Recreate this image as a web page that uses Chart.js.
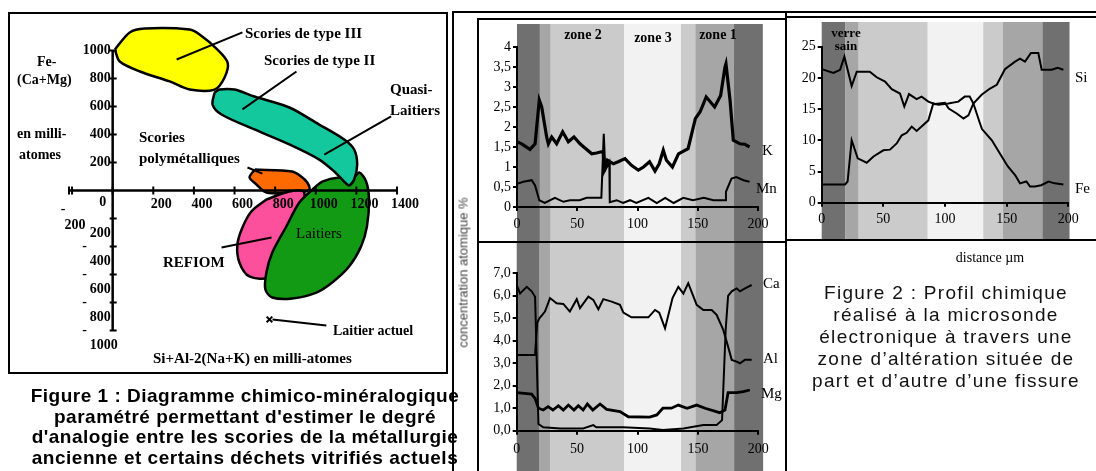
<!DOCTYPE html>
<html>
<head>
<meta charset="utf-8">
<script src="https://cdn.jsdelivr.net/npm/chart.js@4.4.1/dist/chart.umd.min.js"></script>
<style>
  body { margin: 0; background: #fff; }
  #page { position: relative; width: 1096px; height: 471px; overflow: hidden; background: #fff; }
  canvas { position: absolute; }
  .t { position: absolute; white-space: nowrap; line-height: 16px; color: #000; }
  .sb { font: bold 14px "Liberation Serif", serif; }
  .sb15 { font: bold 15px "Liberation Serif", serif; }
  .sr { font: 15px "Liberation Serif", serif; }
  .ln { position: absolute; background: #000; }
  .cap1 { position: absolute; left: 0; width: 490px; top: 386px; text-align: center;
          font: bold 19px "Liberation Sans", Arial, sans-serif; line-height: 20.7px; letter-spacing: 0.5px; }
  .cap2 { position: absolute; left: 790px; width: 312px; top: 282px; text-align: center;
          font: 19px "Liberation Sans", Arial, sans-serif; line-height: 22px; letter-spacing: 1.3px; color: #111; }
</style>
</head>
<body>
<div id="page">
  <!-- figure 1 frame -->
  <div style="position:absolute;left:8px;top:12px;width:440px;height:362px;border:2px solid #000;box-sizing:border-box"></div>
  <canvas id="diag" width="440" height="361" style="left:8px;top:12px"></canvas>

  <!-- figure 2 panels -->
  <canvas id="p1" width="307" height="224" style="left:478px;top:19px"></canvas>
  <canvas id="p4" width="307" height="228" style="left:478px;top:243px"></canvas>
  <canvas id="p3" width="309" height="223" style="left:787px;top:17px"></canvas>

  <!-- figure 2 frame lines -->
  <div class="ln" style="left:452px;top:11px;width:2px;height:460px"></div>
  <div class="ln" style="left:452px;top:11px;width:644px;height:2px"></div>
  <div class="ln" style="left:477px;top:18px;width:2px;height:453px"></div>
  <div class="ln" style="left:477px;top:18px;width:309px;height:2px"></div>
  <div class="ln" style="left:477px;top:241px;width:309px;height:2px"></div>
  <div class="ln" style="left:785px;top:11px;width:2px;height:460px"></div>
  <div class="ln" style="left:785px;top:16px;width:311px;height:2px"></div>
  <div class="ln" style="left:785px;top:239px;width:311px;height:2px"></div>

  <!-- figure 1 labels -->
  <div class="t sb15" style="left:245px;top:25px">Scories de type III</div>
  <div class="t sb15" style="left:264px;top:52px">Scories de type II</div>
  <div class="t sb15" style="left:390px;top:81px">Quasi-</div>
  <div class="t sb15" style="left:390px;top:102px">Laitiers</div>
  <div class="t sb15" style="left:139px;top:129px">Scories</div>
  <div class="t sb15" style="left:139px;top:150px">polymétalliques</div>
  <div class="t sb15" style="left:163px;top:254px">REFIOM</div>
  <div class="t sr" style="left:296px;top:225px;font-size:15px">Laitiers</div>
  <div class="t sb" style="left:333px;top:323px">Laitier actuel</div>
  <div class="t sb" style="left:37px;top:54px">Fe-</div>
  <div class="t sb" style="left:17px;top:72px">(Ca+Mg)</div>
  <div class="t sb" style="left:17px;top:126px">en milli-</div>
  <div class="t sb" style="left:19px;top:147px">atomes</div>
  <div class="t sb15" style="left:153px;top:350px">Si+Al-2(Na+K) en milli-atomes</div>

  <!-- figure 2 labels -->
  <div class="t sb" style="left:553px;top:27px;width:60px;text-align:center">zone 2</div>
  <div class="t sb" style="left:623px;top:30px;width:60px;text-align:center">zone 3</div>
  <div class="t sb" style="left:688px;top:27px;width:60px;text-align:center">zone 1</div>
  <div class="t sr" style="left:762px;top:142px">K</div>
  <div class="t sr" style="left:756px;top:180px">Mn</div>
  <div class="t sb" style="left:826px;top:26px;width:40px;text-align:center;font-size:13px;line-height:13px">verre<br>sain</div>
  <div class="t sr" style="left:1075px;top:69px">Si</div>
  <div class="t sr" style="left:1075px;top:180px">Fe</div>
  <div class="t sr" style="left:763px;top:275px">Ca</div>
  <div class="t sr" style="left:763px;top:350px">Al</div>
  <div class="t sr" style="left:761px;top:385px">Mg</div>
  <div class="t sr" style="left:940px;top:250px;width:100px;text-align:center;font-size:14px">distance µm</div>
  <div class="t" style="left:378px;top:265px;width:170px;text-align:center;font:13px 'Liberation Sans',sans-serif;color:#444;transform:rotate(-90deg)">concentration atomique %</div>

  <div class="cap1">Figure 1 : Diagramme chimico-minéralogique<br>paramétré permettant d'estimer le degré<br>d'analogie entre les scories de la métallurgie<br>ancienne et certains déchets vitrifiés actuels</div>
  <div class="cap2">Figure 2 : Profil chimique<br>réalisé à la microsonde<br>électronique à travers une<br>zone d’altération située de<br>part et d’autre d’une fissure</div>
</div>

<script>
// ---- Figure 1: domains, in milli-atomes [x, y] ----
const yellowBlob = [[11, 1007], [84, 1129], [158, 1157], [379, 1150], [428, 1114], [516, 1007], [566, 914],
  [551, 807], [502, 721], [379, 721], [281, 779], [134, 850], [35, 921]];
const tealBlob = [[502, 700], [492, 614], [536, 543], [698, 436], [870, 329], [1017, 221], [1091, 136],
  [1140, 64], [1164, 36], [1189, 79], [1204, 186], [1189, 293], [1140, 364], [1017, 471], [870, 593],
  [698, 671], [600, 721], [526, 721]];
const orangeBlob = [[700, 150], [884, 136], [928, 100], [958, 57], [968, 7], [919, -14], [757, -14],
  [708, 43], [674, 93]];
const pinkBlob = [[757, -64], [870, -7], [943, -14], [919, -207], [845, -493], [772, -621], [673, -614],
  [624, -514], [614, -386], [639, -264], [683, -150]];
const greenBlob = [[983, 7], [1032, 64], [1115, 93], [1179, 79], [1214, 129], [1248, 64], [1262, -64],
  [1252, -257], [1223, -400], [1164, -543], [1081, -657], [1003, -729], [884, -771], [786, -764],
  [752, -707], [757, -586], [786, -443], [855, -257], [919, -86]];
const leaderTypeIII = [[639, 1129], [315, 936]];
const leaderTypeII = [[905, 850], [639, 579]];
const leaderQuasi = [[1371, 529], [1042, 257]];
const leaderPoly = [[664, 164], [737, 121]];
const leaderRefiom = [[536, -407], [782, -336]];
const leaderActuel = [[787, -921], [1052, -964]];
const laitierActuel = [[772, -921]];
const diagXTicks = [-200, 0, 200, 400, 600, 800, 1000, 1200, 1400];
const diagYTicks = [-1000, -800, -600, -400, -200, 200, 400, 600, 800, 1000];

// ---- Figure 2: profiles [distance µm, concentration %] ----
const seriesK = [[0, 1.63], [3.9, 1.58], [10.8, 1.44], [15, 1.58], [18.5, 2.67], [20.5, 2.5], [24.6, 1.75],
  [26, 1.58], [28.8, 1.75], [32.9, 1.58], [37.9, 1.88], [42.6, 1.63], [47.3, 1.75], [52.3, 1.58],
  [62, 1.33], [66, 1.35], [70, 1.38], [71.5, 1.38], [72.5, 0.95], [75, 1.17], [80, 1.08], [84, 1.13],
  [89.6, 1.21], [95, 1.04], [100.7, 0.92], [105, 1.0], [110, 1.13], [114.5, 0.9], [118, 1.08],
  [121.4, 1.42], [124, 1.17], [129, 1.0], [134, 1.33], [142, 1.46], [148, 2.21], [152, 2.38],
  [157, 2.75], [164, 2.5], [169, 2.79], [172.6, 3.5], [173.4, 3.58], [176.8, 2.67], [179.5, 1.67],
  [185, 1.58], [189, 1.57], [193, 1.5]];
const seriesMn = [[0, 0.58], [5.3, 0.63], [12.2, 0.67], [15, 0.54], [18.5, 0.17], [23, 0.1], [31.5, 0.23],
  [38.5, 0.13], [44, 0.17], [52, 0.17], [57.8, 0.23], [70, 0.23], [72, 1.83], [73.3, 0.92], [76.6, 1.12],
  [77, 0.12], [82.7, 0.17], [88, 0.1], [93.8, 0.17], [99, 0.1], [109, 0.23], [116, 0.1], [123, 0.23],
  [130, 0.1], [138, 0.23], [146, 0.17], [155, 0.23], [163, 0.17], [173, 0.17], [173.4, 0.38],
  [178, 0.71], [182, 0.75], [188, 0.67], [193, 0.63]];
const seriesSi = [[0, 21.4], [9.5, 20.8], [14.9, 21.3], [18.4, 23.4], [24.3, 18.7], [28.4, 21], [39, 21],
  [44.6, 20.1], [51.4, 19.4], [56.8, 18.2], [63.5, 17.5], [67, 15.4], [70.8, 17.4], [77, 16.6], [81, 17],
  [86.5, 16.2], [92, 15.8], [100, 16.0], [103, 15.1], [109.5, 14.3], [115, 13.5], [119, 14.0], [123, 15.9],
  [129.7, 17.3], [136.5, 18.3], [142, 18.9], [148.6, 21.4], [156.8, 22.6], [160.8, 23.1], [164.9, 22.6],
  [169.7, 24.0], [175.7, 24.0], [178.4, 21.3], [186.5, 21.3], [191.4, 21.6], [196, 21.3]];
const seriesFe = [[0, 2.9], [18.9, 2.9], [21, 3.4], [24.3, 10], [29.2, 7.1], [36.5, 6.4], [42, 7.4],
  [50, 8.4], [55.4, 8.5], [60.8, 9.5], [64.9, 10.8], [68.9, 11.2], [73, 12.2], [77, 11.5], [86.5, 13.2],
  [90.5, 15.9], [94.6, 15.7], [102.7, 15.9], [110.8, 16.2], [116, 17], [120, 17], [123, 15.9],
  [128.4, 12.7], [130, 11.8], [138, 10], [146, 7.4], [151, 5.8], [157, 4.4], [160.8, 3.1], [166, 3.4],
  [169, 2.6], [173, 2.6], [178, 2.8], [184, 3.4], [189, 3.1], [196, 2.9]];
const seriesCa = [[0, 6.48], [2.8, 6.1], [8.3, 6.4], [12.4, 6.2], [15.2, 5.96], [18, 0.3], [22, 0.15],
  [36, 0.1], [55, 0.1], [63.4, 0.25], [66, 0.15], [88, 0.15], [110, 0.1], [121, 0.03], [138, 0.1],
  [154.5, 0.25], [165.5, 0.25], [170, 0.47], [173, 4.5], [175, 6.0], [178, 6.2], [182, 6.33],
  [184.8, 6.2], [189, 6.33], [194.5, 6.48]];
const seriesAl = [[0, 3.37], [15.2, 3.37], [17, 4.8], [18.8, 5.0], [23.4, 5.3], [27.6, 5.9], [33, 5.67],
  [38.6, 5.64], [44, 5.3], [49.7, 5.85], [52.4, 5.45], [59.3, 5.96], [63.4, 5.82], [67.6, 5.4],
  [71.7, 5.85], [78.6, 5.74], [85.5, 5.6], [88.3, 5.25], [95, 5.04], [109, 5.04], [114.5, 5.37],
  [118, 5.25], [122.8, 4.55], [129, 5.9], [133.8, 6.4], [138, 6.1], [142, 6.56], [149, 5.6],
  [154.5, 5.37], [161.4, 5.37], [165.5, 5.15], [171, 4.48], [175, 3.74], [178, 3.15], [182, 3.07],
  [184.8, 3.0], [189, 3.15], [194.5, 3.15]];
const seriesMg = [[0, 1.69], [12.4, 1.63], [15.2, 1.44], [18, 1.0], [22, 0.92], [26, 1.07], [30, 0.92],
  [34.5, 1.11], [38.6, 0.92], [42.8, 1.14], [47.4, 0.92], [51, 1.11], [55, 0.92], [58.5, 1.19], [63, 0.92],
  [69, 1.19], [74.5, 0.95], [85.5, 0.85], [92.4, 0.62], [110, 0.6], [116, 0.7], [121, 1.0], [128, 1.0],
  [133.8, 1.14], [141, 1.0], [149, 1.14], [156, 1.0], [168, 0.8], [172.4, 0.92], [175, 1.69], [182, 1.69],
  [187.6, 1.74], [193, 1.81]];

// zones (verre sain / zone 2 / zone 3 / zone 1) as distance boundaries
const bandEdgesLeft = [0, 19, 28, 89, 136, 148, 180, 204];
const bandEdgesRight = [0, 19, 30, 86, 131, 147, 179, 201];
const bandShades = ['#707070', '#a6a6a6', '#cbcbcb', '#f2f2f2', '#cbcbcb', '#a6a6a6', '#707070'];

const pts = arr => arr.map(([x, y]) => ({ x, y }));
const closed = arr => pts(arr.concat([arr[0]]));

// ---------- Figure 1 ----------
const blob = (arr, color) => ({
  data: closed(arr), fill: 'shape', backgroundColor: color, borderColor: '#000', borderWidth: 2.5,
  tension: 0.3, pointRadius: 0, clip: false
});
const leader = arr => ({ data: pts(arr), borderColor: '#000', borderWidth: 2, pointRadius: 0, fill: false, clip: false });

const centreAxes = {
  id: 'centreAxes',
  afterDatasetsDraw(chart) {
    const { ctx } = chart;
    const sx = chart.scales.x, sy = chart.scales.y;
    const ox = sx.getPixelForValue(0), oy = sy.getPixelForValue(0);
    ctx.save();
    ctx.strokeStyle = '#000';
    ctx.lineWidth = 2.5;
    ctx.beginPath();
    ctx.moveTo(sx.getPixelForValue(sx.min), oy);
    ctx.lineTo(sx.getPixelForValue(1400), oy);
    ctx.moveTo(ox, sy.getPixelForValue(1000));
    ctx.lineTo(ox, sy.getPixelForValue(-1000));
    ctx.stroke();
    ctx.lineWidth = 2;
    ctx.beginPath();
    [sx.min].concat(diagXTicks).forEach(v => {
      const p = sx.getPixelForValue(v);
      ctx.moveTo(p, oy - 4); ctx.lineTo(p, oy + 4);
    });
    diagYTicks.forEach(v => {
      const p = sy.getPixelForValue(v);
      ctx.moveTo(ox - 3, p); ctx.lineTo(ox + 4, p);
    });
    ctx.stroke();

    ctx.fillStyle = '#000';
    ctx.font = 'bold 14px "Liberation Serif"';
    ctx.textBaseline = 'middle';
    diagXTicks.forEach(v => {
      const p = sx.getPixelForValue(v);
      ctx.textAlign = 'center';
      if (v === 0) ctx.fillText('0', p - 10, oy + 12);
      else if (v < 0) { ctx.fillText('-', p - 9, oy + 19); ctx.fillText(String(-v), p + 3, oy + 35); }
      else ctx.fillText(String(v), p + 8, oy + 14);
    });
    diagYTicks.forEach(v => {
      const p = sy.getPixelForValue(v);
      ctx.textAlign = 'right';
      if (v > 0) ctx.fillText(String(v), ox - 2, p);
      else {
        if (v !== -200) { ctx.textAlign = 'center'; ctx.fillText('-', ox - 28, p); ctx.textAlign = 'right'; }
        ctx.fillText(String(-v), v === -1000 ? ox + 5 : ox - 2, p + 15);
      }
    });
    ctx.restore();
  }
};

new Chart(document.getElementById('diag'), {
  type: 'line',
  data: {
    datasets: [
      { data: pts(laitierActuel), showLine: false, pointStyle: 'crossRot', pointRadius: 4,
        borderColor: '#000', borderWidth: 2, clip: false },
      leader(leaderActuel), leader(leaderRefiom), leader(leaderPoly),
      leader(leaderQuasi), leader(leaderTypeII), leader(leaderTypeIII),
      blob(tealBlob, '#14c89e'),
      blob(greenBlob, '#129a14'),
      blob(pinkBlob, '#fc4f9c'),
      blob(orangeBlob, '#ff6a00'),
      blob(yellowBlob, '#ffff00')
    ]
  },
  options: {
    responsive: false, animation: false,
    layout: { padding: { left: 61, right: 51, top: 13.3, bottom: 42.5 } },
    scales: {
      x: { type: 'linear', min: -215, max: 1400, display: false },
      y: { type: 'linear', min: -1000, max: 1180, display: false }
    },
    plugins: { legend: { display: false }, tooltip: { enabled: false } }
  },
  plugins: [centreAxes]
});

// ---------- Figure 2 ----------
const bandsPlugin = {
  id: 'bands',
  beforeDraw(chart, args, opts) {
    const { ctx } = chart;
    const sx = chart.scales.x;
    ctx.save();
    for (let i = 0; i < opts.edges.length - 1; i++) {
      const a = sx.getPixelForValue(opts.edges[i]);
      const b = sx.getPixelForValue(opts.edges[i + 1]);
      ctx.fillStyle = bandShades[i];
      ctx.fillRect(a, opts.top, b - a, chart.height - opts.top);
    }
    ctx.restore();
  }
};

const line = (arr, width) => ({
  data: pts(arr), borderColor: '#000', borderWidth: width, pointRadius: 0, tension: 0, fill: false
});

function profile(id, datasets, cfg) {
  const tickFont = { family: 'Liberation Serif', size: 14 };
  return new Chart(document.getElementById(id), {
    type: 'line',
    data: { datasets },
    options: {
      responsive: false, animation: false,
      layout: { padding: { left: 0, top: cfg.top, right: cfg.right, bottom: 0 } },
      scales: {
        x: {
          type: 'linear', min: 0, max: 200,
          ticks: { stepSize: 50, color: '#000', font: tickFont, padding: cfg.xPad, maxRotation: 0 },
          grid: { drawOnChartArea: false, color: '#000', lineWidth: 2, tickLength: 4 },
          border: { color: '#000', width: 2 },
          afterFit: s => { s.height = cfg.xHeight; }
        },
        y: {
          type: 'linear', min: 0, max: cfg.yMax,
          ticks: { stepSize: cfg.yStep, color: '#000', font: tickFont, padding: 2, callback: cfg.fmt },
          grid: { drawOnChartArea: false, color: '#000', lineWidth: 2, tickLength: 4 },
          border: { color: '#000', width: 2 },
          afterFit: s => { s.width = cfg.yWidth; }
        }
      },
      plugins: {
        legend: { display: false }, tooltip: { enabled: false },
        bands: { edges: cfg.edges, top: cfg.bandTop }
      }
    },
    plugins: [bandsPlugin]
  });
}

const commaFmt = v => String(v).replace('.', ',');
const oneDecFmt = v => v.toFixed(1).replace('.', ',');

profile('p1', [line(seriesK, 3.2), line(seriesMn, 2)], {
  yMax: 4, yStep: 0.5, fmt: commaFmt, top: 28, right: 27, yWidth: 39, xHeight: 36, xPad: 5,
  edges: bandEdgesLeft, bandTop: 5
});
profile('p4', [line(seriesMg, 2.8), line(seriesAl, 2), line(seriesCa, 2)], {
  yMax: 7, yStep: 1, fmt: oneDecFmt, top: 30.3, right: 26.7, yWidth: 38.7, xHeight: 40.3, xPad: 6,
  edges: bandEdgesLeft, bandTop: 0
});
profile('p3', [line(seriesSi, 2), line(seriesFe, 2)], {
  yMax: 25, yStep: 5, fmt: v => String(v), top: 29.7, right: 27.7, yWidth: 34.7, xHeight: 37.3, xPad: 4,
  edges: bandEdgesRight, bandTop: 5
});
</script>
</body>
</html>
